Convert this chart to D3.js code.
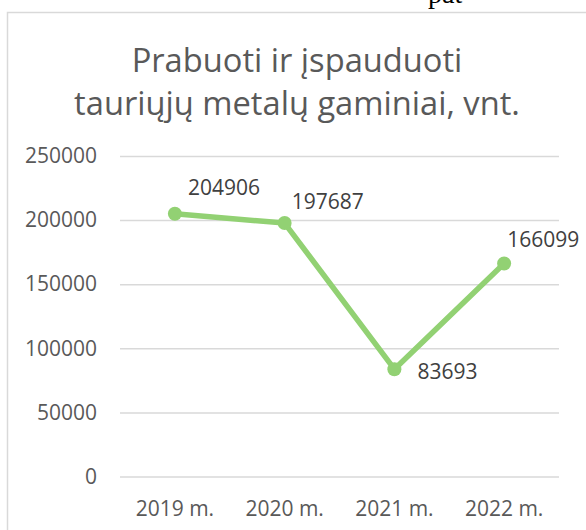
<!DOCTYPE html>
<html>
<head>
<meta charset="utf-8">
<script src="https://cdn.jsdelivr.net/npm/d3@7"></script>
<style>
  body { margin: 0; background: #fff; }
  svg { display: block; }
</style>
</head>
<body>
<script>
// data
var years = ["2019 m.", "2020 m.", "2021 m.", "2022 m."];
var values = [204906, 197687, 83693, 166099];
var yTicks = [0, 50000, 100000, 150000, 200000, 250000];
var titleLines = ["Prabuoti ir įspauduoti", "tauriųjų metalų gaminiai, vnt."];

// label nudges (layout only)
var labelDx = [13, 7, 23, 3];
var labelDy = [-19, -14, 10, -17];

var W = 586, H = 530;
var fontFam = "'Open Sans', 'Noto Sans', sans-serif";

var svg = d3.select("body").append("svg")
    .attr("width", W)
    .attr("height", H);

// bit of page text cut off above the chart
svg.append("text")
    .attr("x", 428)
    .attr("y", 3)
    .style("font-family", "'Liberation Serif', serif")
    .style("font-size", "28px")
    .attr("fill", "#000")
    .text("pat");

// chart frame
svg.append("rect")
    .attr("x", 7.5)
    .attr("y", 12.5)
    .attr("width", 640)
    .attr("height", 600)
    .attr("fill", "#fff")
    .attr("stroke", "#d9d9d9")
    .attr("stroke-width", 1.5);

var x = d3.scaleBand()
    .domain(years)
    .range([120, 559]);

var y = d3.scaleLinear()
    .domain([0, 250000])
    .range([476.5, 156]);

// title
var title = svg.append("g");
title.selectAll("text").data(titleLines)
    .enter().append("text")
    .attr("x", 297)
    .attr("y", function(d, i) { return 72 + i * 43; })
    .attr("text-anchor", "middle")
    .attr("fill", "#595959")
    .style("font-family", fontFam)
    .style("font-size", "30px")
    .text(function(d) { return d; });

// fit second line width to ~446px
var t2 = title.selectAll("text").nodes()[1];
var fs = 30 * 446 / t2.getComputedTextLength();
title.selectAll("text").style("font-size", fs + "px");

// y axis + grid
var yAxis = svg.append("g")
    .attr("transform", "translate(120,0)")
    .call(d3.axisLeft(y).tickValues(yTicks).tickSize(-439).tickPadding(23).tickFormat(d3.format("d")));
yAxis.select(".domain").remove();
yAxis.selectAll("line")
    .attr("stroke", "#d9d9d9")
    .attr("stroke-width", 1.5);
yAxis.selectAll("text")
    .attr("fill", "#595959")
    .style("font-family", fontFam)
    .style("font-size", "21px");

// x labels
svg.append("g").selectAll("text").data(years)
    .enter().append("text")
    .attr("x", function(d) { return x(d) + x.bandwidth() / 2; })
    .attr("y", 516)
    .attr("text-anchor", "middle")
    .attr("fill", "#595959")
    .style("font-family", fontFam)
    .style("font-size", "21px")
    .text(function(d) { return d; });

var pts = values.map(function(v, i) {
    return [x(years[i]) + x.bandwidth() / 2, y(v)];
});

// line
svg.append("path")
    .datum(pts)
    .attr("d", d3.line())
    .attr("fill", "none")
    .attr("stroke", "#92d173")
    .attr("stroke-width", 5.5)
    .attr("stroke-linejoin", "round");

// markers
svg.append("g").selectAll("circle").data(pts)
    .enter().append("circle")
    .attr("cx", function(d) { return d[0]; })
    .attr("cy", function(d) { return d[1]; })
    .attr("r", 7)
    .attr("fill", "#92d173");

// data labels
svg.append("g").selectAll("text").data(values)
    .enter().append("text")
    .attr("x", function(d, i) { return pts[i][0] + labelDx[i]; })
    .attr("y", function(d, i) { return pts[i][1] + labelDy[i]; })
    .attr("fill", "#404040")
    .style("font-family", fontFam)
    .style("font-size", "21px")
    .text(function(d) { return d; });
</script>
</body>
</html>
